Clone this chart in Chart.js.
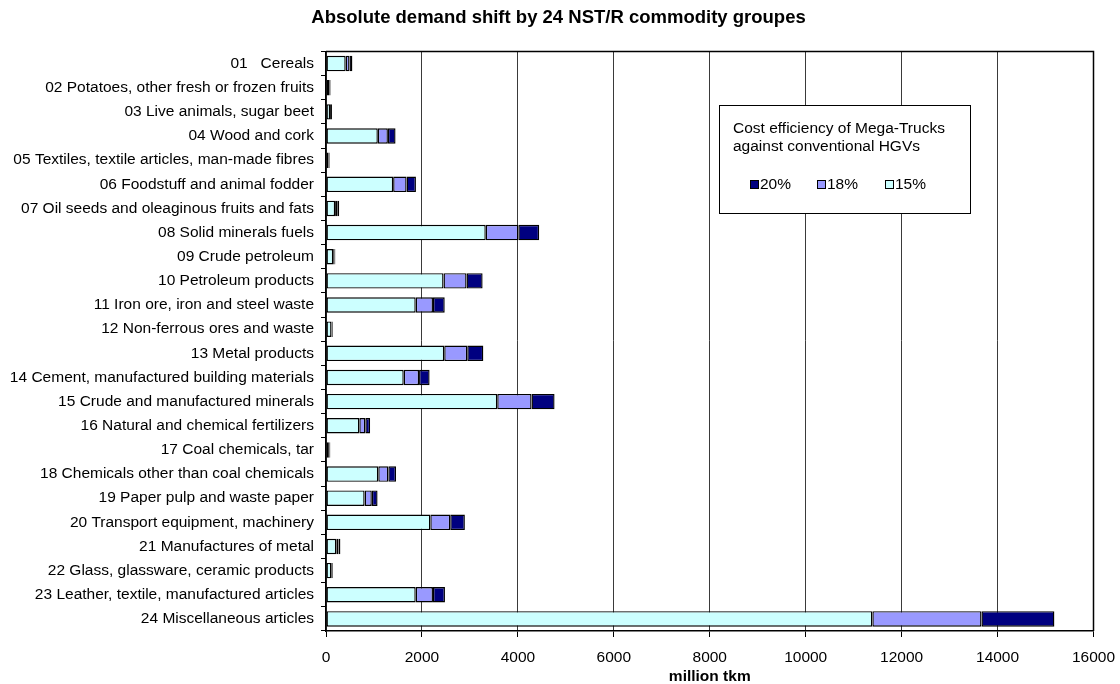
<!DOCTYPE html>
<html>
<head>
<meta charset="utf-8">
<title>Absolute demand shift by 24 NST/R commodity groupes</title>
<script src="https://cdn.jsdelivr.net/npm/chart.js@4.4.1/dist/chart.umd.min.js"></script>
<style>
  html, body { margin: 0; padding: 0; background: #ffffff; }
  #wrap { width: 1120px; height: 684px; }
</style>
</head>
<body>
<div id="wrap"><canvas id="chart" width="1120" height="684"></canvas></div>
<script>
// NST/R commodity groups
const commodities = [
  "01   Cereals",
  "02 Potatoes, other fresh or frozen fruits",
  "03 Live animals, sugar beet",
  "04 Wood and cork",
  "05 Textiles, textile articles, man-made fibres",
  "06 Foodstuff and animal fodder",
  "07 Oil seeds and oleaginous fruits and fats",
  "08 Solid minerals fuels",
  "09 Crude petroleum",
  "10 Petroleum products",
  "11 Iron ore, iron and steel waste",
  "12 Non-ferrous ores and waste",
  "13 Metal products",
  "14 Cement, manufactured building materials",
  "15 Crude and manufactured minerals",
  "16 Natural and chemical fertilizers",
  "17 Coal chemicals, tar",
  "18 Chemicals other than coal chemicals",
  "19 Paper pulp and waste paper",
  "20 Transport equipment, machinery",
  "21 Manufactures of metal",
  "22 Glass, glassware, ceramic products",
  "23 Leather, textile, manufactured articles",
  "24 Miscellaneous articles"
];

// Demand shift (million tkm) at 15% cost efficiency
const shift15 = [410, 65, 85, 1080, 55, 1400, 190, 3330, 150, 2450, 1870, 115,
                 2465, 1620, 3570, 695, 60, 1090, 805, 2175, 215, 110, 1870, 11390];
// Additional shift when efficiency rises to 18%
const extra18 = [80, 15, 20, 210, 12, 280, 45, 680, 25, 480, 360, 15,
                 480, 320, 715, 125, 15, 210, 150, 415, 45, 20, 360, 2275];
// Additional shift when efficiency rises to 20%
const extra20 = [60, 15, 20, 160, 13, 195, 40, 435, 20, 335, 245, 15,
                 335, 220, 480, 100, 15, 160, 120, 305, 40, 15, 250, 1520];

const xTicks = [0, 2000, 4000, 6000, 8000, 10000, 12000, 14000, 16000];

const FONT = '"Liberation Sans", Arial, Helvetica, sans-serif';
const TITLE = 'Absolute demand shift by 24 NST/R commodity groupes';

// Chart title, plot frame and the legend box inside the plot area
const decorations = {
  id: 'decorations',
  afterDraw(chart) {
    const ctx = chart.ctx;
    const ca = chart.chartArea;
    ctx.save();

    ctx.fillStyle = '#000';
    ctx.font = 'bold 18.5px ' + FONT;
    ctx.textAlign = 'center';
    ctx.textBaseline = 'alphabetic';
    ctx.fillText(TITLE, 558.5, 22.7);

    // plot area frame (top and right edges)
    ctx.strokeStyle = '#000';
    ctx.lineWidth = 1.5;
    ctx.beginPath();
    ctx.moveTo(ca.left, ca.top);
    ctx.lineTo(ca.right, ca.top);
    ctx.lineTo(ca.right, ca.bottom);
    ctx.stroke();

    const bx = 719.5, by = 105.5, bw = 251, bh = 108;
    ctx.fillStyle = '#fff';
    ctx.fillRect(bx, by, bw, bh);
    ctx.lineWidth = 1;
    ctx.strokeStyle = '#000';
    ctx.strokeRect(bx, by, bw, bh);

    ctx.fillStyle = '#000';
    ctx.font = '15.5px ' + FONT;
    ctx.textAlign = 'left';
    ctx.fillText('Cost efficiency of Mega-Trucks', 733, 133);
    ctx.fillText('against conventional HGVs', 733, 151);

    const order = [2, 1, 0];
    const xs = [750, 817, 885];
    order.forEach((di, i) => {
      const ds = chart.data.datasets[di];
      ctx.fillStyle = ds.backgroundColor;
      ctx.fillRect(xs[i] + 0.5, 180.5, 8, 8);
      ctx.strokeStyle = '#000';
      ctx.lineWidth = 1;
      ctx.strokeRect(xs[i] + 0.5, 180.5, 8, 8);
      ctx.fillStyle = '#000';
      ctx.fillText(ds.label, xs[i] + 10, 189);
    });
    ctx.restore();
  }
};

new Chart(document.getElementById('chart'), {
  type: 'bar',
  data: {
    labels: commodities,
    datasets: [
      { label: '15%', data: shift15, backgroundColor: '#CCFFFF' },
      { label: '18%', data: extra18, backgroundColor: '#9999FF' },
      { label: '20%', data: extra20, backgroundColor: '#000080' }
    ]
  },
  options: {
    indexAxis: 'y',
    responsive: false,
    animation: false,
    layout: { padding: { left: 0, right: 26.5, top: 51.5, bottom: 0 } },
    datasets: {
      bar: {
        borderColor: '#000',
        borderWidth: 1.4,
        borderSkipped: false,
        barPercentage: 0.64,
        categoryPercentage: 1.0
      }
    },
    plugins: {
      legend: { display: false },
      tooltip: { enabled: false },
      title: { display: false }
    },
    scales: {
      x: {
        stacked: true,
        min: 0,
        max: 16000,
        afterBuildTicks(scale) { scale.ticks = xTicks.map(v => ({ value: v })); },
        afterFit(scale) {
          scale.height = 53;
          scale.paddingLeft = 0;
          scale.paddingRight = 0;
        },
        ticks: {
          color: '#000',
          font: { family: FONT, size: 15.5 },
          padding: 11,
          maxRotation: 0,
          callback: v => String(v)
        },
        grid: {
          color: ctx => (ctx.tick && ctx.tick.value === 16000) ? '#000' : '#3a3a3a',
          lineWidth: 1,
          tickColor: '#000',
          tickLength: 6
        },
        border: { display: true, color: '#000', width: 1.5 },
        title: {
          display: true,
          text: 'million tkm',
          color: '#000',
          font: { family: FONT, size: 15.5, weight: 'bold', lineHeight: 1 },
          padding: { top: 0, bottom: 0 }
        }
      },
      y: {
        stacked: true,
        afterFit(scale) {
          scale.width = 326;
          scale.paddingTop = 0;
          scale.paddingBottom = 0;
        },
        ticks: {
          color: '#000',
          font: { family: FONT, size: 15.5 },
          padding: 7,
          autoSkip: false
        },
        grid: {
          drawOnChartArea: false,
          drawTicks: true,
          tickLength: 5,
          color: '#000',
          offset: true
        },
        border: { display: true, color: '#000', width: 1.5 }
      }
    }
  },
  plugins: [decorations]
});
</script>
</body>
</html>
